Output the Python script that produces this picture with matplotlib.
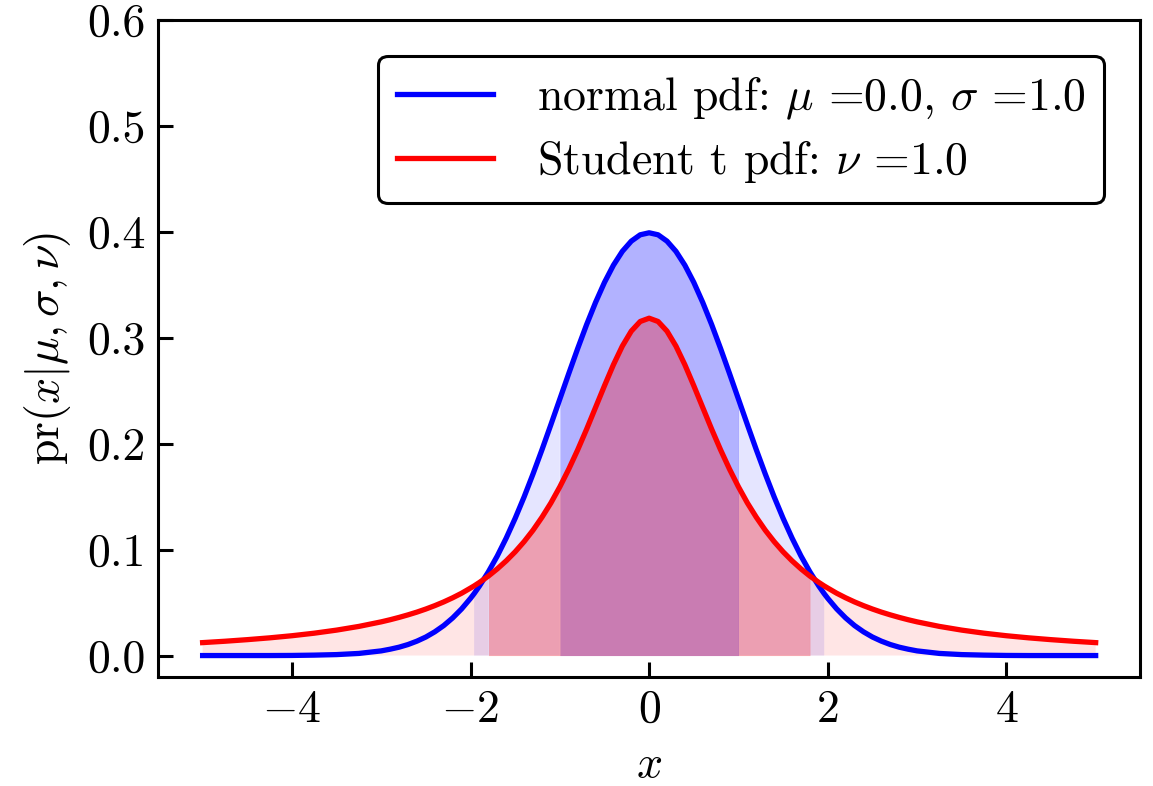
import numpy as np
import matplotlib
matplotlib.use("Agg")
import matplotlib.pyplot as plt

plt.rcParams["font.family"] = "serif"
plt.rcParams["font.serif"] = ["cmr10"]
plt.rcParams["mathtext.fontset"] = "cm"
plt.rcParams["axes.formatter.use_mathtext"] = True
plt.rcParams["axes.unicode_minus"] = True

# sample points
x = np.array([
    -5.0, -4.75, -4.5, -4.25, -4.0, -3.75, -3.5, -3.25, -3.0,
    -2.9, -2.8, -2.7, -2.6, -2.5, -2.4, -2.3, -2.2, -2.1, -2.0, -1.96,
    -1.9, -1.8, -1.7, -1.6, -1.5, -1.4, -1.3, -1.2, -1.1, -1.0,
    -0.9, -0.8, -0.7, -0.6, -0.5, -0.4, -0.3, -0.2, -0.1, 0.0,
    0.1, 0.2, 0.3, 0.4, 0.5, 0.6, 0.7, 0.8, 0.9, 1.0,
    1.1, 1.2, 1.3, 1.4, 1.5, 1.6, 1.7, 1.8, 1.9,
    1.96, 2.0, 2.1, 2.2, 2.3, 2.4, 2.5, 2.6, 2.7, 2.8, 2.9,
    3.0, 3.25, 3.5, 3.75, 4.0, 4.25, 4.5, 4.75, 5.0,
])
normal_pdf = np.array([
    0.0000, 0.0000, 0.0000, 0.0000, 0.0001, 0.0004, 0.0009, 0.0020, 0.0044,
    0.0060, 0.0079, 0.0104, 0.0136, 0.0175, 0.0224, 0.0283, 0.0355, 0.0440, 0.0540, 0.0584,
    0.0656, 0.0790, 0.0940, 0.1109, 0.1295, 0.1497, 0.1714, 0.1942, 0.2179, 0.2420,
    0.2661, 0.2897, 0.3123, 0.3332, 0.3521, 0.3683, 0.3814, 0.3910, 0.3970, 0.3989,
    0.3970, 0.3910, 0.3814, 0.3683, 0.3521, 0.3332, 0.3123, 0.2897, 0.2661, 0.2420,
    0.2179, 0.1942, 0.1714, 0.1497, 0.1295, 0.1109, 0.0940, 0.0790, 0.0656,
    0.0584, 0.0540, 0.0440, 0.0355, 0.0283, 0.0224, 0.0175, 0.0136, 0.0104, 0.0079, 0.0060,
    0.0044, 0.0020, 0.0009, 0.0004, 0.0001, 0.0000, 0.0000, 0.0000, 0.0000,
])
student_pdf = np.array([
    0.0122, 0.0135, 0.0150, 0.0167, 0.0187, 0.0211, 0.0240, 0.0275, 0.0318,
    0.0338, 0.0360, 0.0384, 0.0410, 0.0439, 0.0471, 0.0506, 0.0545, 0.0588, 0.0637, 0.0657,
    0.0690, 0.0750, 0.0818, 0.0894, 0.0979, 0.1075, 0.1183, 0.1305, 0.1440, 0.1592,
    0.1759, 0.1941, 0.2136, 0.2341, 0.2546, 0.2744, 0.2920, 0.3061, 0.3152, 0.3183,
    0.3152, 0.3061, 0.2920, 0.2744, 0.2546, 0.2341, 0.2136, 0.1941, 0.1759, 0.1592,
    0.1440, 0.1305, 0.1183, 0.1075, 0.0979, 0.0894, 0.0818, 0.0750, 0.0690,
    0.0657, 0.0637, 0.0588, 0.0545, 0.0506, 0.0471, 0.0439, 0.0410, 0.0384, 0.0360, 0.0338,
    0.0318, 0.0275, 0.0240, 0.0211, 0.0187, 0.0167, 0.0150, 0.0135, 0.0122,
])

# shaded interval edges
normal_inner, normal_outer = 1.0, 1.96
student_inner = 1.8

fig = plt.figure(figsize=(11.53, 7.86), dpi=100)
ax = fig.add_axes([0.137, 0.139, 0.852, 0.836])

ax.fill_between(x, 0, normal_pdf, where=np.abs(x) <= normal_inner,
                color="blue", alpha=0.3, lw=0)
ax.fill_between(x, 0, normal_pdf,
                where=(np.abs(x) >= normal_inner) & (np.abs(x) <= normal_outer),
                color="blue", alpha=0.1, lw=0)
ax.fill_between(x, 0, student_pdf, where=np.abs(x) <= student_inner,
                color="red", alpha=0.3, lw=0)
ax.fill_between(x, 0, student_pdf, where=np.abs(x) >= student_inner,
                color="red", alpha=0.1, lw=0)

ax.plot(x, normal_pdf, color="blue", lw=3.8,
        label=r"normal pdf: $\mu$ =0.0, $\sigma$ =1.0")
ax.plot(x, student_pdf, color="red", lw=3.8,
        label=r"Student t pdf: $\nu$ =1.0")

ax.set_xlim(-5.5, 5.5)
ax.set_ylim(-0.02, 0.6)
ax.set_xticks([-4, -2, 0, 2, 4])
ax.set_yticks([0.0, 0.1, 0.2, 0.3, 0.4, 0.5, 0.6])
ax.set_yticklabels(["0.0", "0.1", "0.2", "0.3", "0.4", "0.5", "0.6"])
ax.tick_params(direction="in", length=11, width=2.2, labelsize=33, pad=9)
for s in ax.spines.values():
    s.set_linewidth(2.2)

ax.set_xlabel(r"$x$", fontsize=33, labelpad=10)
ax.set_ylabel(r"pr$(x|\mu,\sigma,\nu)$", fontsize=33, labelpad=10)

leg = ax.legend(loc="upper right", fontsize=33, handlelength=2.1,
                handletextpad=0.95, framealpha=1, edgecolor="black",
                fancybox=True, borderpad=0.4, borderaxespad=0.8,
                labelspacing=0.35)
leg.get_frame().set_linewidth(2.2)

fig.savefig("out.png", dpi=100)
